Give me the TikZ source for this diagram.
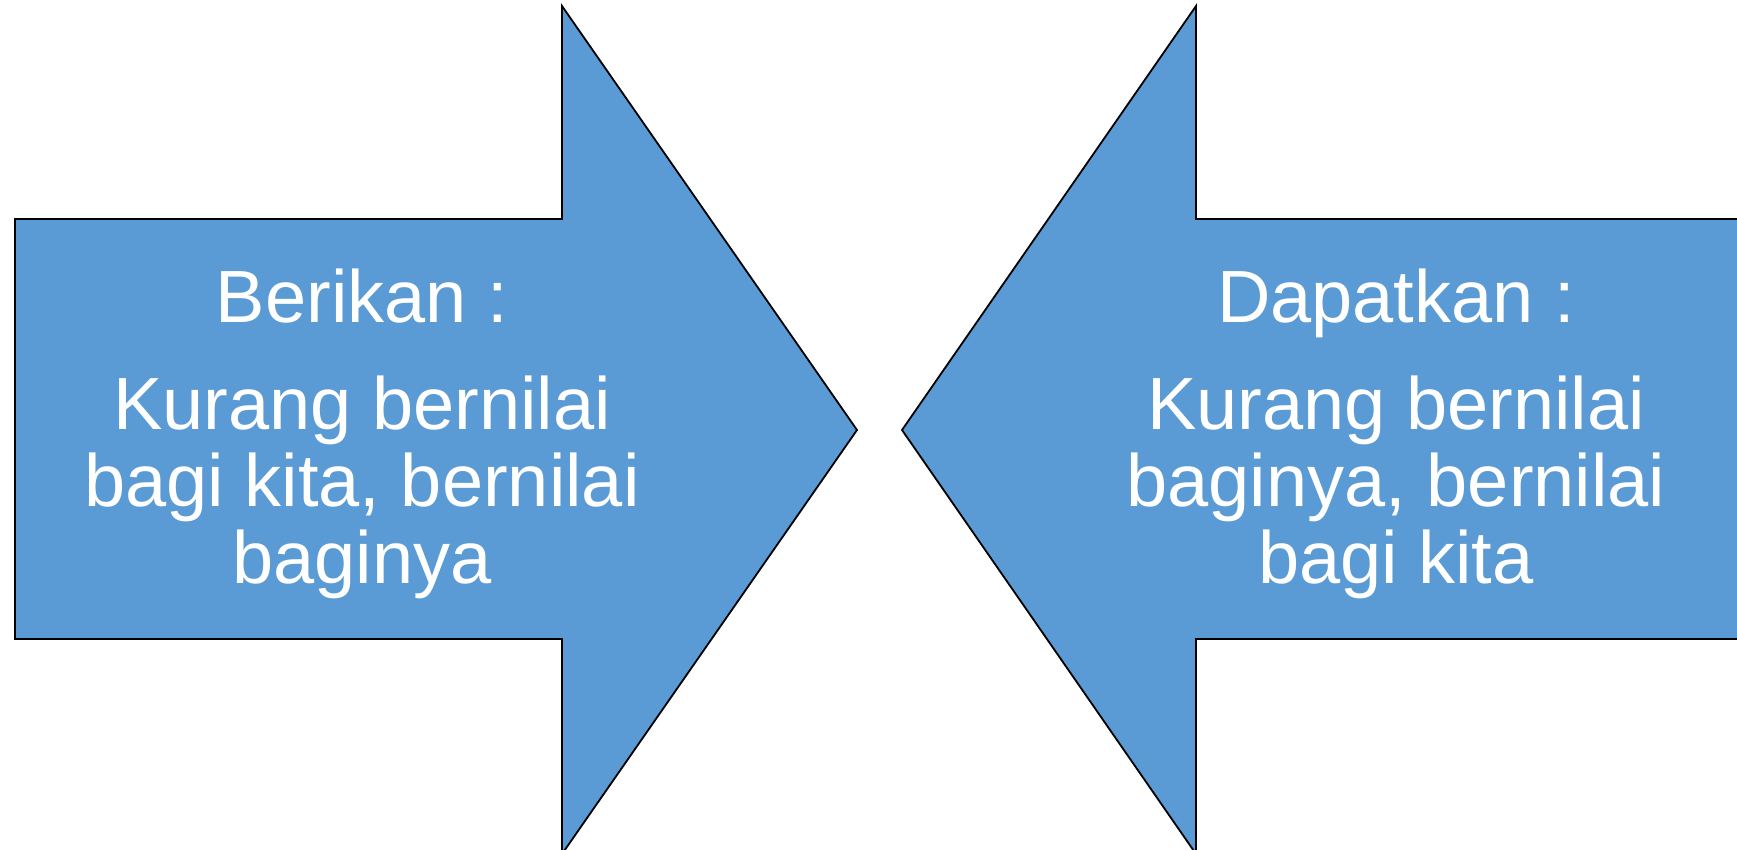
\documentclass[tikz,border=0pt]{standalone}
\usepackage{fontspec}
\setmainfont{Liberation Sans}
\definecolor{arrowblue}{HTML}{5B9BD5}
\begin{document}
\begin{tikzpicture}[x=1pt,y=-1pt,
  bigarrow/.style={fill=arrowblue,draw=black,line width=1.8pt,line join=miter},
  label/.style={text=white,font=\fontsize{74}{77}\selectfont,anchor=base,inner sep=0pt}]
  \useasboundingbox (0,0) rectangle (1737,850);
  % right-pointing arrow
  \draw[bigarrow] (15,219) -- (562,219) -- (562,6) -- (857,430) -- (562,854)
    -- (562,639) -- (15,639) -- cycle;
  % left-pointing arrow
  \draw[bigarrow] (1750,219) -- (1196,219) -- (1196,6) -- (902,430) -- (1196,854)
    -- (1196,639) -- (1750,639) -- cycle;
  % texts of the left arrow
  \node[label] (givetitle) at (362,322) {Berikan :};
  \node[label] (giveA) at (362,429) {Kurang bernilai};
  \node[label] (giveB) at (362,506) {bagi kita, bernilai};
  \node[label] (giveC) at (362,583) {baginya};
  % texts of the right arrow
  \node[label] (gettitle) at (1396,322) {Dapatkan :};
  \node[label] (getA) at (1396,429) {Kurang bernilai};
  \node[label] (getB) at (1396,506) {baginya, bernilai};
  \node[label] (getC) at (1396,583) {bagi kita};
\end{tikzpicture}
\end{document}
